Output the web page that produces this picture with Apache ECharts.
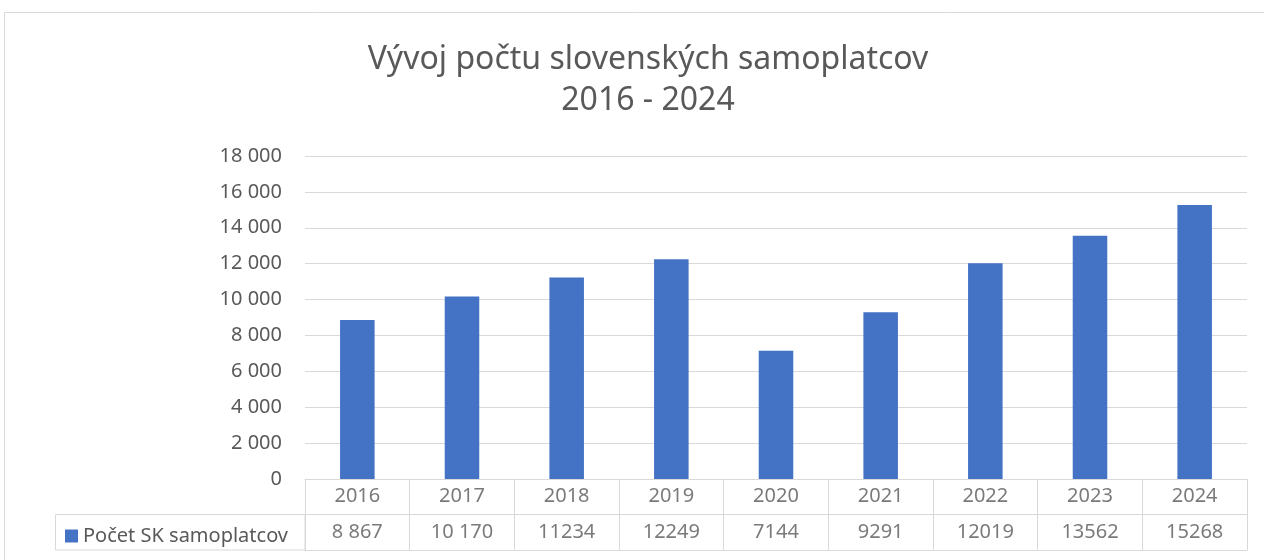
<!DOCTYPE html>
<html>
<head>
<meta charset="utf-8">
<script src="https://cdn.jsdelivr.net/npm/echarts@6/dist/echarts.min.js"></script>
<style>
  html, body { margin: 0; padding: 0; background: #fff; }
  #graf { width: 1264px; height: 560px; }
</style>
</head>
<body>
<div id="graf"></div>
<script>
// roky a pocty samoplatcov
var roky = ['2016', '2017', '2018', '2019', '2020', '2021', '2022', '2023', '2024'];
var pocty = [8867, 10170, 11234, 12249, 7144, 9291, 12019, 13562, 15268];
// texty v tabulke pod grafom (tak ako su v originale)
var tabulkaHodnoty = ['8 867', '10 170', '11234', '12249', '7144', '9291', '12019', '13562', '15268'];
var nazovRady = 'Počet SK samoplatcov';

var pismo = '"Noto Sans", sans-serif';
var sedaText = '#595959';
var sedaCiara = '#d9d9d9';

var bunkyRoky = roky.map(function (r, i) { return [i, 1]; });
var bunkyHodnoty = roky.map(function (r, i) { return [i, 0]; });

var graf = echarts.init(document.getElementById('graf'));

var option = {
  animation: false,
  backgroundColor: '#fff',
  title: {
    text: 'Vývoj počtu slovenských samoplatcov\n2016 - 2024',
    left: 643,
    top: 34,
    textAlign: 'center',
    textStyle: { fontFamily: pismo, fontSize: 32, fontWeight: 'normal', color: sedaText, lineHeight: 41 }
  },
  legend: {
    left: 60,
    top: 521,
    icon: 'rect',
    itemWidth: 13,
    itemHeight: 13,
    itemGap: 6,
    textStyle: { fontFamily: pismo, fontSize: 20, color: sedaText },
    data: [nazovRady]
  },
  grid: [
    { left: 305, right: 17, top: 156, bottom: 81 },
    { left: 305, right: 17, top: 479, height: 71 }
  ],
  xAxis: [
    {
      type: 'category', gridIndex: 0, data: roky,
      axisLine: { lineStyle: { color: sedaCiara } },
      axisTick: { show: false },
      axisLabel: { show: false }
    },
    {
      type: 'category', gridIndex: 1, data: roky,
      axisLine: { lineStyle: { color: sedaCiara } },
      axisTick: { show: false },
      axisLabel: { show: false },
      splitLine: { show: true, interval: 0, lineStyle: { color: sedaCiara } }
    }
  ],
  yAxis: [
    {
      type: 'value', gridIndex: 0, min: 0, max: 18000, interval: 2000,
      axisLine: { show: false },
      axisTick: { show: false },
      axisLabel: {
        margin: 23,
        fontFamily: pismo, fontSize: 20, color: sedaText,
        formatter: function (v) { return String(v).replace(/\B(?=(\d{3})+(?!\d))/g, ' '); }
      },
      splitLine: { lineStyle: { color: sedaCiara } }
    },
    {
      type: 'category', gridIndex: 1, data: ['hodnoty', 'roky'],
      axisLine: { show: true, lineStyle: { color: sedaCiara } },
      axisTick: { show: false },
      axisLabel: { show: false },
      splitLine: { show: true, interval: 0, lineStyle: { color: sedaCiara } }
    }
  ],
  graphic: [
    {
      type: 'rect', silent: true,
      shape: { x: 4.5, y: 12.5, width: 1300, height: 600 },
      style: { fill: 'none', stroke: sedaCiara, lineWidth: 1 }
    },
    {
      type: 'rect', silent: true,
      shape: { x: 55.5, y: 514.5, width: 249.5, height: 35.5 },
      style: { fill: 'none', stroke: sedaCiara, lineWidth: 1 }
    }
  ],
  series: [
    {
      name: nazovRady,
      type: 'bar',
      xAxisIndex: 0, yAxisIndex: 0,
      barWidth: '33%',
      itemStyle: { color: '#4472c4' },
      data: pocty
    },
    {
      type: 'scatter', xAxisIndex: 1, yAxisIndex: 1,
      symbolSize: 1, itemStyle: { color: 'rgba(0,0,0,0)' },
      label: {
        show: true, position: 'inside',
        fontFamily: pismo, fontSize: 20, color: sedaText,
        formatter: function (p) { return roky[p.dataIndex]; }
      },
      data: bunkyRoky
    },
    {
      type: 'scatter', xAxisIndex: 1, yAxisIndex: 1,
      symbolSize: 1, itemStyle: { color: 'rgba(0,0,0,0)' },
      label: {
        show: true, position: 'inside',
        fontFamily: pismo, fontSize: 20, color: sedaText,
        formatter: function (p) { return tabulkaHodnoty[p.dataIndex]; }
      },
      data: bunkyHodnoty
    }
  ]
};

graf.setOption(option);
</script>
</body>
</html>
